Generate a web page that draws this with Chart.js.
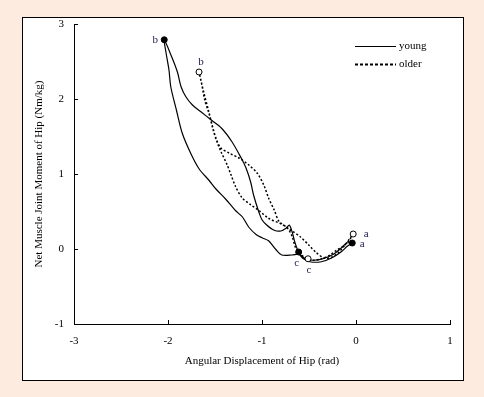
<!DOCTYPE html>
<html>
<head>
<meta charset="utf-8">
<script src="https://cdn.jsdelivr.net/npm/chart.js@4.4.1/dist/chart.umd.min.js"></script>
<style>
  html, body { margin: 0; padding: 0; background: #fdebe0; }
  canvas { display: block; }
</style>
</head>
<body>
<canvas id="grafica" width="484" height="397"></canvas>
<script>
// young: a -> bottom -> lower branch -> b -> upper branch -> c -> back toward a
const youngX = [-0.04, -0.09, -0.16, -0.26, -0.37, -0.49, -0.57, -0.61, -0.68, -0.79, -0.85, -0.93, -1.00, -1.06, -1.14, -1.21, -1.28, -1.39, -1.49, -1.56, -1.67, -1.76, -1.85, -1.91, -1.97, -1.99, -2.02, -2.04,
  -1.96, -1.90, -1.86, -1.81, -1.74, -1.65, -1.54, -1.43, -1.32, -1.22, -1.17, -1.12, -1.09, -1.03, -1.00, -0.95, -0.87, -0.80, -0.74, -0.71, -0.68, -0.65, -0.61,
  -0.55, -0.46, -0.35, -0.24, -0.16, -0.10, -0.05]
const youngY = [0.08, 0.04, -0.04, -0.12, -0.17, -0.17, -0.12, -0.07, -0.08, -0.08, -0.01, 0.11, 0.15, 0.19, 0.29, 0.43, 0.51, 0.67, 0.80, 0.91, 1.07, 1.28, 1.55, 1.85, 2.16, 2.39, 2.61, 2.79,
  2.56, 2.36, 2.16, 2.03, 1.92, 1.83, 1.72, 1.61, 1.43, 1.21, 1.08, 0.89, 0.72, 0.48, 0.39, 0.32, 0.25, 0.24, 0.28, 0.32, 0.23, 0.09, -0.04,
  -0.12, -0.15, -0.13, -0.07, 0.01, 0.08, 0.08]

// older: a -> bottom -> c -> right branch -> b -> left branch -> back to a
const olderX = [-0.03, -0.07, -0.13, -0.20, -0.29, -0.37, -0.45, -0.51, -0.57, -0.64, -0.68, -0.73, -0.82, -0.87, -0.93, -0.98, -1.05, -1.14, -1.24, -1.35, -1.44, -1.49, -1.53, -1.57, -1.62, -1.65, -1.67,
  -1.64, -1.61, -1.56, -1.52, -1.48, -1.43, -1.37, -1.33, -1.28, -1.21, -1.12, -1.03, -0.93, -0.79, -0.68, -0.59, -0.50, -0.43, -0.34, -0.26, -0.18, -0.12, -0.06, -0.03]
const olderY = [0.20, 0.12, 0.04, -0.01, -0.09, -0.13, -0.15, -0.13, -0.09, 0.01, 0.17, 0.28, 0.37, 0.52, 0.68, 0.85, 1.01, 1.12, 1.21, 1.28, 1.35, 1.48, 1.65, 1.85, 2.09, 2.25, 2.36,
  2.19, 1.99, 1.79, 1.59, 1.43, 1.28, 1.12, 0.99, 0.83, 0.68, 0.59, 0.51, 0.41, 0.33, 0.24, 0.16, 0.05, -0.04, -0.12, -0.11, -0.04, 0.05, 0.15, 0.20]

const markLabels = ['a', 'b', 'c']
const youngMarkX = [-0.04, -2.04, -0.61]
const youngMarkY = [0.08, 2.79, -0.04]
const olderMarkX = [-0.03, -1.67, -0.51]
const olderMarkY = [0.20, 2.36, -0.13]

const seriesNames = ['young', 'older']
const xTitle = 'Angular Displacement of Hip (rad)'
const yTitle = 'Net Muscle Joint Moment of Hip (Nm/kg)'

const pts = (xs, ys) => xs.map((x, i) => ({ x: x, y: ys[i] }))
const serif = "'Liberation Serif', 'Times New Roman', serif"

// label offsets next to each marker [young, older]
const labelOffsets = [
  [[10, 1], [-9, 0], [-2, 11]],
  [[13, 0], [2, -10], [1, 11]]
]

const panelPlugin = {
  id: 'panel',
  beforeDraw(chart) {
    const ctx = chart.ctx
    ctx.save()
    ctx.fillStyle = '#fdebe0'
    ctx.fillRect(0, 0, chart.width, chart.height)
    ctx.fillStyle = '#ffffff'
    ctx.fillRect(22, 17, 441, 363)
    ctx.strokeStyle = '#000'
    ctx.lineWidth = 1
    ctx.strokeRect(22.5, 17.5, 441, 363)
    ctx.restore()
  },
  afterDraw(chart) {
    const ctx = chart.ctx
    const xs = chart.scales.x, ys = chart.scales.y
    const area = chart.chartArea
    ctx.save()
    ctx.strokeStyle = '#000'
    ctx.lineWidth = 1
    // inward tick marks
    xs.ticks.forEach(t => {
      const px = Math.round(xs.getPixelForValue(t.value)) + 0.5
      ctx.beginPath(); ctx.moveTo(px, area.bottom); ctx.lineTo(px, area.bottom - 4); ctx.stroke()
    })
    ys.ticks.forEach(t => {
      const py = Math.round(ys.getPixelForValue(t.value)) + 0.5
      ctx.beginPath(); ctx.moveTo(area.left, py); ctx.lineTo(area.left + 4, py); ctx.stroke()
    })
    // point labels
    ctx.fillStyle = '#1c1c50'
    ctx.font = '11px ' + serif
    ctx.textAlign = 'center'
    ctx.textBaseline = 'middle'
    ;[2, 3].forEach((di, s) => {
      chart.getDatasetMeta(di).data.forEach((el, i) => {
        const o = labelOffsets[s][i]
        ctx.fillText(markLabels[i], el.x + o[0], el.y + o[1])
      })
    })
    // legend
    ctx.fillStyle = '#000'
    ctx.textAlign = 'left'
    ctx.font = '11px ' + serif
    ctx.lineWidth = 1.2
    ctx.beginPath(); ctx.moveTo(355, 46.5); ctx.lineTo(396, 46.5); ctx.stroke()
    ctx.fillText(seriesNames[0], 399, 46)
    ctx.lineWidth = 2
    ctx.setLineDash([3, 2])
    ctx.beginPath(); ctx.moveTo(355, 64.5); ctx.lineTo(396, 64.5); ctx.stroke()
    ctx.setLineDash([])
    ctx.fillText(seriesNames[1], 399, 64)
    ctx.restore()
  }
}

const data = {
  datasets: [
    {
      label: seriesNames[0],
      data: pts(youngX, youngY),
      showLine: true,
      borderColor: '#000',
      borderWidth: 1.2,
      pointRadius: 0,
      tension: 0.3,
      order: 2
    },
    {
      label: seriesNames[1],
      data: pts(olderX, olderY),
      showLine: true,
      borderColor: '#000',
      borderWidth: 1.5,
      borderDash: [2, 2],
      pointRadius: 0,
      tension: 0.3,
      order: 1
    },
    {
      label: 'young marks',
      data: pts(youngMarkX, youngMarkY),
      pointRadius: 3,
      backgroundColor: '#000',
      borderColor: '#000',
      borderWidth: 1,
      order: 0
    },
    {
      label: 'older marks',
      data: pts(olderMarkX, olderMarkY),
      pointRadius: 3,
      backgroundColor: '#fff',
      borderColor: '#000',
      borderWidth: 1,
      order: 0
    }
  ]
}

const config = {
  type: 'scatter',
  data: data,
  options: {
    responsive: false,
    animation: false,
    layout: { padding: { top: 24, right: 34, left: 0, bottom: 0 } },
    plugins: {
      legend: { display: false },
      tooltip: { enabled: false }
    },
    scales: {
      x: {
        type: 'linear',
        min: -3,
        max: 1,
        ticks: { stepSize: 1, color: '#000', font: { family: serif, size: 11 }, padding: 11 },
        grid: { drawOnChartArea: false, drawTicks: false },
        border: { color: '#000', width: 1 },
        title: { display: true, text: xTitle, color: '#000', font: { family: serif, size: 11 }, padding: { top: 0, bottom: 29 } },
        afterFit: s => { s.height = 73 }
      },
      y: {
        type: 'linear',
        min: -1,
        max: 3,
        ticks: { stepSize: 1, color: '#000', font: { family: serif, size: 11 }, padding: 10 },
        grid: { drawOnChartArea: false, drawTicks: false },
        border: { color: '#000', width: 1 },
        title: { display: true, text: yTitle, color: '#000', font: { family: serif, size: 11 }, padding: { top: 33, bottom: 0 } },
        afterFit: s => { s.width = 74 }
      }
    }
  },
  plugins: [panelPlugin]
}

new Chart(document.querySelector('#grafica'), config)
</script>
</body>
</html>
